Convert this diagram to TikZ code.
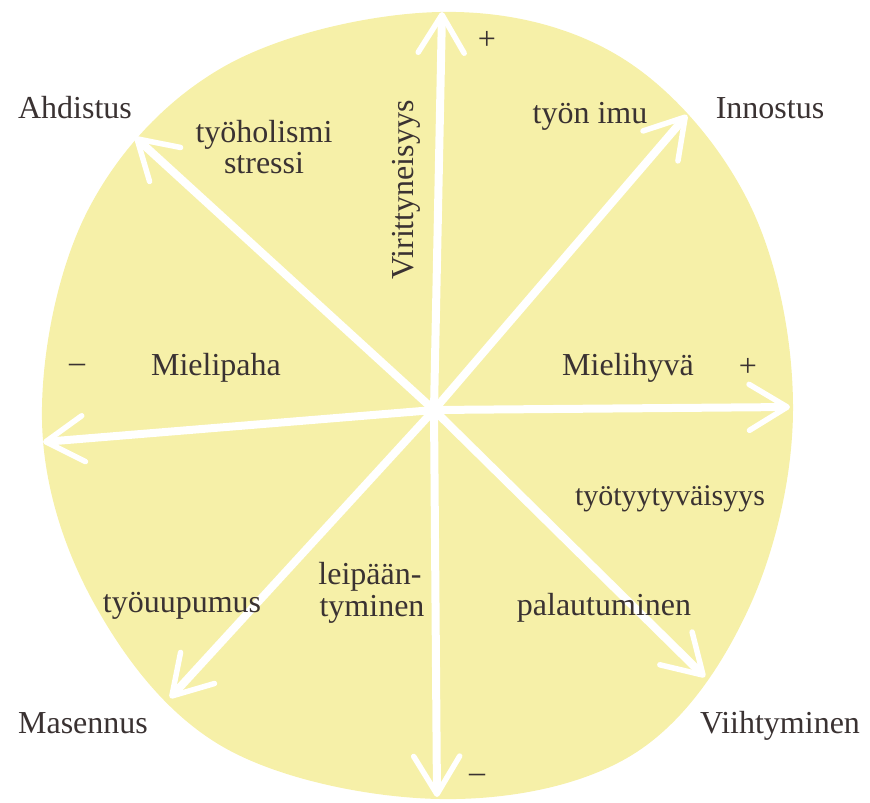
\documentclass[tikz,border=0pt]{standalone}
\usepackage{fontspec}
\setmainfont{Liberation Serif}
\usetikzlibrary{arrows.meta}
\definecolor{blob}{RGB}{246,240,168}
\definecolor{ink}{RGB}{58,50,50}
\begin{document}
\begin{tikzpicture}[x=1pt,y=-1pt,
  lbl/.style={text=ink, font=\fontsize{32}{36}\selectfont, inner sep=0pt, anchor=base},
  ax/.style={draw=white, line width=8pt, line cap=round,
    -{Straight Barb[length=38pt,width=46pt,line width=5.5pt,round]}}]
\useasboundingbox (0,0) rectangle (870,803);
\fill[blob] plot[smooth cycle, tension=0.6] coordinates {
 (440,12) (622,58) (750,205) (793,410) (748,610) (632,755)
 (440,799) (225,748) (95,605) (42,420) (88,210) (225,66)};
% axes
\coordinate (c) at (434,410);
\coordinate (tN) at (442,12);
\coordinate (tS) at (437,797);
\coordinate (tE) at (790,407);
\coordinate (tW) at (43,442);
\coordinate (tNW) at (135,137);
\coordinate (tNE) at (687,115);
\coordinate (tSE) at (705,677);
\coordinate (tSW) at (170,698);
\foreach \t in {tN,tS,tE,tW,tNW,tNE,tSE,tSW} \draw[ax] (c) -- (\t);
% labels
\node[lbl] (ahd) at (75,118) {Ahdistus};
\node[lbl] (tyoh) at (264,142) {työholismi};
\node[lbl] (stre) at (264,173) {stressi};
\node[lbl, rotate=90] (vir) at (413,190) {Virittyneisyys};
\node[lbl, anchor=center] (plN) at (487,40) {+};
\node[lbl] (imu) at (590,123) {työn imu};
\node[lbl] (inn) at (770,118) {Innostus};
\node[lbl, anchor=center] (miW) at (77,368) {–};
\node[lbl] (mpa) at (216,375) {Mielipaha};
\node[lbl] (mhy) at (628,375) {Mielihyvä};
\node[lbl, anchor=center] (plE) at (748,367) {+};
\node[lbl, font=\fontsize{30}{34}\selectfont] (tyt) at (670,505) {työtyytyväisyys};
\node[lbl] (tyu) at (182,612) {työuupumus};
\node[lbl] (lei) at (370,584) {leipään-};
\node[lbl] (tym) at (372,616) {tyminen};
\node[lbl] (pal) at (604,615) {palautuminen};
\node[lbl] (mas) at (83,733) {Masennus};
\node[lbl, anchor=center] (miS) at (477,778) {–};
\node[lbl] (vii) at (780,733) {Viihtyminen};
\end{tikzpicture}
\end{document}
